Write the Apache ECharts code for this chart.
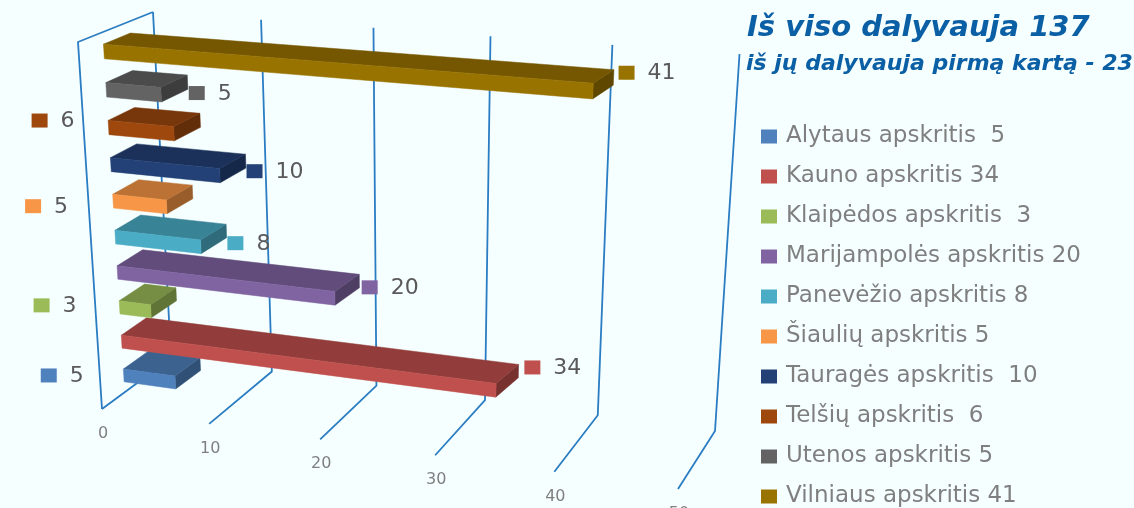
<!DOCTYPE html>
<html><head><meta charset="utf-8">
<style>html,body{margin:0;padding:0;background:#f6ffff}#c{width:1134px;height:508px}</style>
<script src="https://cdn.jsdelivr.net/npm/echarts@6/dist/echarts.min.js"></script>
</head><body><div id="c"></div>
<script>
const categories=["Alytaus apskritis","Kauno apskritis","Klaipėdos apskritis","Marijampolės apskritis","Panevėžio apskritis","Šiaulių apskritis","Tauragės apskritis","Telšių apskritis","Utenos apskritis","Vilniaus apskritis"];
const values=[5,34,3,20,8,5,10,6,5,41];
const legendNames=["Alytaus apskritis  5","Kauno apskritis 34","Klaipėdos apskritis  3","Marijampolės apskritis 20","Panevėžio apskritis 8","Šiaulių apskritis 5","Tauragės apskritis  10","Telšių apskritis  6","Utenos apskritis 5","Vilniaus apskritis 41"];
const tickLabels=[0,10,20,30,40,50];
const colors=["#4f81bd","#c0504d","#9bbb59","#8064a2","#4bacc6","#f79646","#234176","#9e480e","#636363","#997300"];
// label placement: side and pixel offset of the value key from its bar anchor
const labelSide=["left","right","left","right","right","left","right","left","right","right"];
const labelOffset=[[-75,0],[16,3],[-78,-2],[12,13],[10,19],[-80,5],[10,17],[-69,-7],[10,18],[15,3]];

const AXIS_MAX=50, V0=.33, V1=.69, HALF=.019;
function homography(q){
  const [x0,y0]=q[0],[x1,y1]=q[1],[x2,y2]=q[2],[x3,y3]=q[3];
  const dx1=x1-x2,dx2=x3-x2,sx=x0-x1+x2-x3,dy1=y1-y2,dy2=y3-y2,sy=y0-y1+y2-y3;
  const det=dx1*dy2-dx2*dy1,g=(sx*dy2-dx2*sy)/det,h=(dx1*sy-sx*dy1)/det;
  const a=x1-x0+g*x1,b=x3-x0+h*x3,d=y1-y0+g*y1,e=y3-y0+h*y3;
  return (u,w)=>{const k=g*u+h*w+1;return [(a*u+b*w+x0)/k,(d*u+e*w+y0)/k];};
}
// camera of the 3-D box: (axis 0 / axis max, floor / ceiling) on the front and back planes
const frontPlane=homography([[102,409],[678,489],[706,92],[78,42]]);
const backPlane=homography([[171,358],[715,431],[739.5,54],[153,12]]);
function project(u,v,w,dv){
  const f=frontPlane(u,w),b=backPlane(u,w),vx=v+(dv||0);
  return [f[0]+(b[0]-f[0])*vx,f[1]+(b[1]-f[1])*v];
}
function shade(hex,k){
  const n=parseInt(hex.slice(1),16);
  const c=[n>>16,(n>>8)&255,n&255].map(x=>Math.round(x*k));
  return "rgb("+c.join(",")+")";
}
function poly(points,fill){return {type:"polygon",shape:{points},style:{fill,stroke:fill,lineWidth:.5}};}
function norm(params,pt){
  const r=params.coordSys;
  return [(pt[0]-r.x)/r.width,1-(pt[1]-r.y)/r.height];
}
function renderWall(params,api){
  const t=api.value(0);
  const u=norm(params,api.coord([t,0]))[0];
  const stroke="#2a7dc2";
  const line=pts=>({type:"polyline",shape:{points:pts},style:{stroke,fill:null,lineWidth:1.8}});
  const kids=[line([project(u,0,0),project(u,1,0),project(u,1,1)])];
  if(t===0) kids.push(line([project(0,0,0),project(0,0,1),project(0,1,1)]));
  const f=project(u,0,0);
  kids.push({type:"text",x:f[0]+1,y:f[1]+25,style:{text:String(t),fill:"#7f7f7f",font:"16px 'DejaVu Sans'",align:"center",verticalAlign:"middle"}});
  return {type:"group",children:kids};
}
function renderBar(i){
  return function(params,api){
    const p=norm(params,api.coord([api.value(0),api.value(1)]));
    const u=p[0],w=p[1],lo=w-HALF,hi=w+HALF,c=colors[i];
    const df=-.1*u,db=.07*u;
    const kids=[
      poly([project(u,V0,lo,df),project(u,V1,lo,db),project(u,V1,hi,db),project(u,V0,hi,df)],shade(c,.62)),
      poly([project(0,V0,hi),project(u,V0,hi,df),project(u,V1,hi,db),project(0,V1,hi)],shade(c,.76)),
      poly([project(0,V0,lo),project(u,V0,lo,df),project(u,V0,hi,df),project(0,V0,hi)],c)
    ];
    const anchor=labelSide[i]==="left"?project(0,V0,w):project(u,V1,hi);
    const kx=anchor[0]+labelOffset[i][0],ky=anchor[1]+labelOffset[i][1];
    kids.push({type:"rect",shape:{x:kx-8,y:ky-7,width:16,height:14},style:{fill:c}});
    kids.push({type:"text",x:kx+21,y:ky+1,style:{text:String(values[i]),fill:"#595959",font:"22px 'DejaVu Sans'",align:"left",verticalAlign:"middle"}});
    return {type:"group",children:kids};
  };
}
const series=[{type:"custom",name:"walls",silent:true,data:tickLabels.map(t=>[t]),encode:{x:0},renderItem:renderWall,clip:false,z:1}];
categories.forEach((c,i)=>series.push({
  type:"custom",name:legendNames[i],silent:true,clip:false,z:2+i,
  itemStyle:{color:colors[i]},
  data:[[values[i],i]],encode:{x:0,y:1},renderItem:renderBar(i)
}));
const chart=echarts.init(document.getElementById("c"),null,{renderer:"canvas"});
chart.setOption({
  animation:false,
  backgroundColor:"#f6ffff",
  title:[
    {text:"Iš viso dalyvauja 137",left:742,top:9,textStyle:{color:"#0b5fa5",fontFamily:"DejaVu Sans",fontStyle:"italic",fontWeight:"bold",fontSize:29}},
    {text:"iš jų dalyvauja pirmą kartą - 23",left:741,top:48,textStyle:{color:"#0b5fa5",fontFamily:"DejaVu Sans",fontStyle:"italic",fontWeight:"bold",fontSize:22}}
  ],
  grid:{left:0,right:0,top:0,bottom:0},
  xAxis:{type:"value",min:0,max:AXIS_MAX,interval:10,show:false},
  yAxis:{type:"category",data:categories,show:false},
  legend:{orient:"vertical",left:761,top:125,padding:0,itemWidth:16,itemHeight:14,itemGap:17,icon:"rect",selectedMode:false,
    data:legendNames,
    textStyle:{color:"#7f7f7f",fontFamily:"DejaVu Sans",fontSize:23,padding:[0,0,0,4]}},
  series
});
</script></body></html>
